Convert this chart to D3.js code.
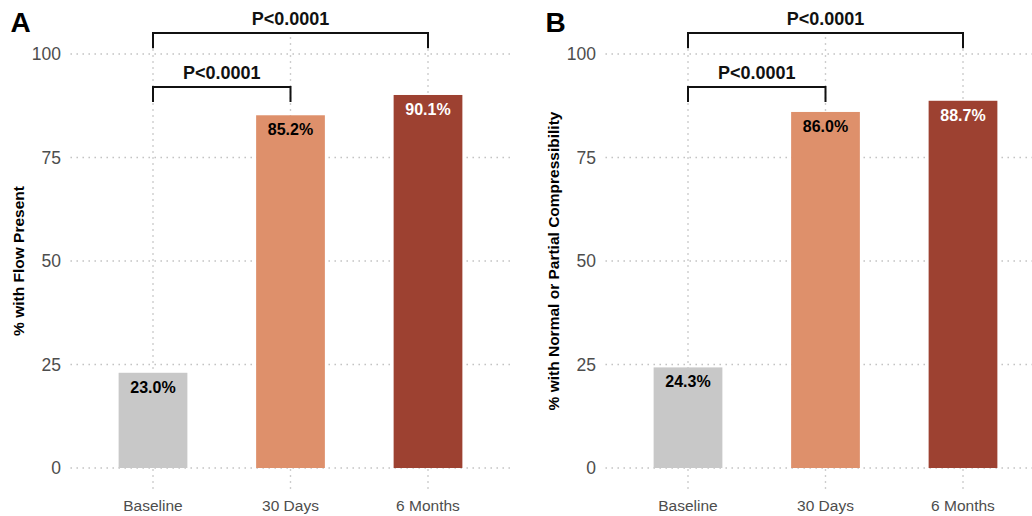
<!DOCTYPE html>
<html>
<head>
<meta charset="utf-8">
<script src="https://cdn.jsdelivr.net/npm/d3@7"></script>
<style>
  body { margin: 0; background: #fff; }
  svg { display: block; font-family: "Liberation Sans", Arial, sans-serif; }
</style>
</head>
<body>
<svg id="chart" width="1032" height="516"></svg>
<script>
const categories = ['Baseline', '30 Days', '6 Months'];
const flowValues = [23.0, 85.2, 90.1];
const compressValues = [24.3, 86.0, 88.7];
const barColors = ['#c8c8c8', '#de906b', '#9d4131'];
const labelColors = ['#000', '#000', '#fff'];
const yTicks = [0, 25, 50, 75, 100];
// comparisons: [from, to, bracket height, tick bottom, label]
const comparisons = [
  ['Baseline', '30 Days', 92.0, 88.4, 'P<0.0001'],
  ['Baseline', '6 Months', 105.1, 101.4, 'P<0.0001']
];

const panels = [
  { letter: 'A', title: '% with Flow Present', values: flowValues, left: 70.5 },
  { letter: 'B', title: '% with Normal or Partial Compressibility', values: compressValues, left: 605.5 }
];

const svg = d3.select('#chart');
const y = d3.scaleLinear().domain([0, 100]).range([468, 54]);
const gridColor = '#bdbdbd';

panels.forEach(p => {
  const x = d3.scalePoint().domain(categories).range([p.left, p.left + 440]).padding(0.6);
  const bw = x.step() * 0.5;
  const g = svg.append('g');

  // grid
  g.selectAll('.hgrid').data(yTicks).enter().append('line')
    .attr('x1', p.left).attr('x2', p.left + 440)
    .attr('y1', d => y(d)).attr('y2', d => y(d))
    .attr('stroke', gridColor).attr('stroke-width', 1.4)
    .attr('stroke-dasharray', '1.4,4.6');
  g.selectAll('.vgrid').data(categories).enter().append('line')
    .attr('x1', d => x(d)).attr('x2', d => x(d))
    .attr('y1', y(-5)).attr('y2', y(105))
    .attr('stroke', gridColor).attr('stroke-width', 1.4)
    .attr('stroke-dasharray', '1.4,4.6');

  // tick labels
  g.selectAll('.ytick').data(yTicks).enter().append('text')
    .attr('x', p.left - 9.5).attr('y', d => y(d))
    .attr('text-anchor', 'end').attr('dominant-baseline', 'central')
    .attr('font-size', 17.5).attr('fill', '#4d4d4d')
    .text(d => d);
  g.selectAll('.xtick').data(categories).enter().append('text')
    .attr('x', d => x(d)).attr('y', 511)
    .attr('text-anchor', 'middle')
    .attr('font-size', 15.5).attr('fill', '#4d4d4d')
    .text(d => d);

  // bars
  g.selectAll('.bar').data(p.values).enter().append('rect')
    .attr('x', (d, i) => x(categories[i]) - bw / 2)
    .attr('width', bw)
    .attr('y', d => y(d))
    .attr('height', d => y(0) - y(d))
    .attr('fill', (d, i) => barColors[i]);

  g.selectAll('.blabel').data(p.values).enter().append('text')
    .attr('x', (d, i) => x(categories[i]))
    .attr('y', d => y(d) + 20)
    .attr('text-anchor', 'middle')
    .attr('font-size', 16).attr('font-weight', 'bold')
    .attr('fill', (d, i) => labelColors[i])
    .text(d => d.toFixed(1) + '%');

  // brackets
  comparisons.forEach(c => {
    const x1 = x(c[0]), x2 = x(c[1]);
    g.append('path')
      .attr('d', `M${x1},${y(c[3])}V${y(c[2])}H${x2}V${y(c[3])}`)
      .attr('fill', 'none').attr('stroke', '#111').attr('stroke-width', 2);
    g.append('text')
      .attr('x', (x1 + x2) / 2).attr('y', y(c[2]) - 8)
      .attr('text-anchor', 'middle')
      .attr('font-size', 18).attr('font-weight', 'bold').attr('fill', '#111')
      .text(c[4]);
  });

  // axis title
  g.append('text')
    .attr('transform', `translate(${p.left - 52.5},${y(50)}) rotate(-90)`)
    .attr('text-anchor', 'middle').attr('dominant-baseline', 'central')
    .attr('font-size', 15.5).attr('font-weight', 'bold').attr('fill', '#000')
    .text(p.title);

  // panel letter
  g.append('text')
    .attr('x', p.left - 60).attr('y', 32)
    .attr('font-size', 28).attr('font-weight', 'bold').attr('fill', '#000')
    .text(p.letter);
});
</script>
</body>
</html>
